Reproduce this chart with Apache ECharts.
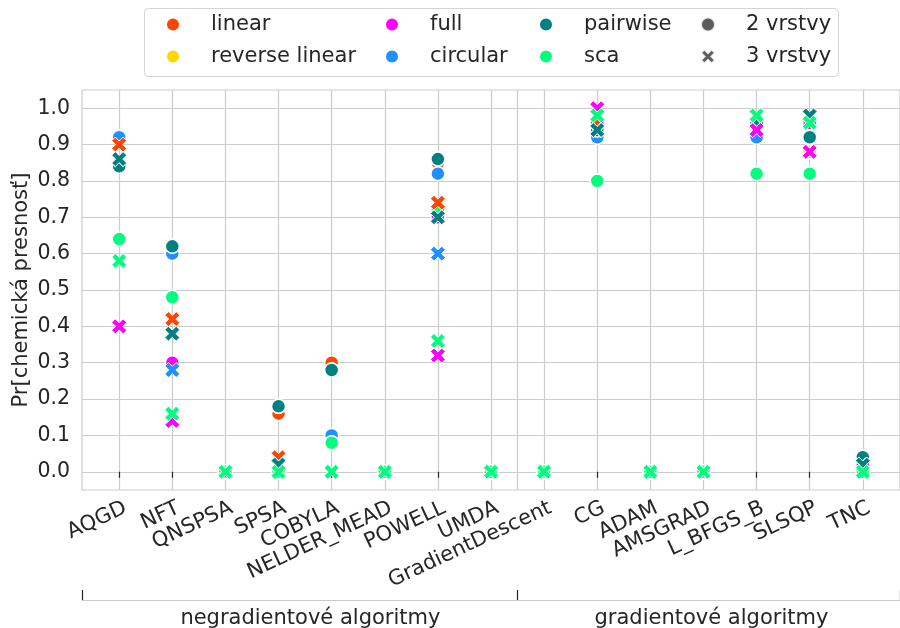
<!DOCTYPE html>
<html><head><meta charset="utf-8">
<script src="https://cdn.jsdelivr.net/npm/echarts@6/dist/echarts.min.js"></script>
<style>html,body{margin:0;padding:0;background:#fff}#c{width:900px;height:628px}</style>
</head><body><div id="c"></div>
<script>
const categories = ['AQGD','NFT','QNSPSA','SPSA','COBYLA','NELDER_MEAD','POWELL','UMDA','GradientDescent','CG','ADAM','AMSGRAD','L_BFGS_B','SLSQP','TNC'];
const groupLabels = ['negradientové algoritmy','gradientové algoritmy'];
const groupBounds = [-0.7, 7.5, 14.7];
const groupCenters = [3.6, 11.15];
const yTicks = [0,0.1,0.2,0.3,0.4,0.5,0.6,0.7,0.8,0.9,1.0];
const methods = ['linear','reverse linear','full','circular','pairwise','sca'];
const methodColors = ['#FF4500','#FFD700','#FF00FF','#1E90FF','#008080','#00FF7F'];
const layers = ['2 vrstvy','3 vrstvy'];

// 2 vrstvy (circles)
const linear2  = [0.92,0.60,0,0.16,0.30,0,0.85,0,0,0.94,0,0,0.92,0.88,0.04];
const revlin2  = [0.92,0.60,0,0.18,0.28,0,0.86,0,0,0.94,0,0,0.92,0.88,0.04];
const full2    = [0.92,0.30,0,0,0.08,0,0.70,0,0,0.96,0,0,0.92,0.96,0.02];
const circ2    = [0.92,0.60,0,0,0.10,0,0.82,0,0,0.92,0,0,0.92,0.92,0.04];
const pair2    = [0.84,0.62,0,0.18,0.28,0,0.86,0,0,0.94,0,0,0.96,0.92,0.04];
const sca2     = [0.64,0.48,0,0,0.08,0,0.72,0,0,0.80,0,0,0.82,0.82,0];
// 3 vrstvy (X markers)
const linear3  = [0.90,0.42,0,0.04,0,0,0.74,0,0,0.96,0,0,0.94,0.88,0.02];
const revlin3  = [0.86,0.38,0,0.02,0,0,0.70,0,0,0.94,0,0,0.94,0.88,0.02];
const full3    = [0.40,0.14,0,0,0,0,0.32,0,0,1.00,0,0,0.94,0.88,0.02];
const circ3    = [0.86,0.28,0,0.02,0,0,0.60,0,0,0.94,0,0,0.98,0.96,0.02];
const pair3    = [0.86,0.38,0,0.02,0,0,0.70,0,0,0.94,0,0,0.98,0.98,0.02];
const sca3     = [0.58,0.16,0,0,0,0,0.36,0,0,0.98,0,0,0.98,0.96,0];

const vals2 = [linear2, revlin2, full2, circ2, pair2, sca2];
const vals3 = [linear3, revlin3, full3, circ3, pair3, sca3];

const FONT = 'DejaVu Sans';
const TXT = '#262626';
const XPATH = 'path://M0,2.4 L2.4,0 L5,2.6 L7.6,0 L10,2.4 L7.4,5 L10,7.6 L7.6,10 L5,7.4 L2.4,10 L0,7.6 L2.6,5 Z';
const catIdx = categories.map((c,i)=>i);

const series = [];
methods.forEach((m,i)=>series.push({
  type:'scatter', name:m, symbol:'circle', symbolSize:14,
  itemStyle:{color:methodColors[i], borderColor:'#fff', borderWidth:1.5, opacity:1},
  emphasis:{disabled:true}, silent:true,
  data: vals2[i].map((v,j)=>[j,v]),
  markLine: i===0 ? {silent:true, symbol:'none', label:{show:false},
    lineStyle:{color:'#cccccc', type:'solid', width:1.2},
    data:[{xAxis: groupBounds[1]}]} : undefined
}));
methods.forEach((m,i)=>series.push({
  type:'scatter', name:m, symbol:XPATH, symbolSize:15, symbolKeepAspect:true,
  itemStyle:{color:methodColors[i], borderColor:'#fff', borderWidth:1, opacity:1},
  emphasis:{disabled:true}, silent:true,
  data: vals3[i].map((v,j)=>[j,v])
}));
series.push({type:'scatter', name:layers[0], symbol:'circle', itemStyle:{color:'#333333', borderColor:'#fff', borderWidth:1.5}, data:[]});
series.push({type:'scatter', name:layers[1], symbol:XPATH, itemStyle:{color:'#333333', borderColor:'#fff', borderWidth:1}, data:[]});

const legendCols = [[methods[0],methods[1]],[methods[2],methods[3]],[methods[4],methods[5]],[layers[0],layers[1]]];
const legendLeft = [165, 384, 538, 700];

const chart = echarts.init(document.getElementById('c'), null, {renderer:'canvas'});
chart.setOption({
  animation:false,
  textStyle:{fontFamily:FONT, color:TXT},
  graphic:[{type:'rect', z:0, shape:{x:144.5, y:8.5, width:694, height:68, r:4},
    style:{fill:'#ffffff', stroke:'#d4d4d4', lineWidth:1}}],
  legend: legendCols.map((col,k)=>({
    orient:'vertical', left:legendLeft[k], top:14, itemWidth:66, itemHeight:14, itemGap:11,
    selectedMode:false, padding:0,
    data: col.map(n=>({name:n, icon: n===layers[1] ? XPATH : 'circle'})),
    textStyle:{fontSize:21, color:TXT, fontFamily:FONT}
  })),
  grid:{left:82, right:0, top:90, bottom:138, show:true, borderColor:'#cccccc', borderWidth:1.2,
    containLabel:false, outerBoundsMode:'none'},
  xAxis:[{
    type:'value', min:-0.7, max:14.7,
    axisLine:{show:false},
    axisTick:{show:true, customValues:catIdx, length:6, lineStyle:{color:TXT, width:1.2}},
    axisLabel:{customValues:catIdx, rotate:25, margin:20, padding:[0,-7,0,0], fontSize:21, color:TXT, fontFamily:FONT,
      formatter:v=>categories[Math.round(v)]},
    splitLine:{show:true, lineStyle:{color:'#cccccc', width:1.2}}
  },{
    type:'value', min:-0.7, max:14.7, position:'bottom', offset:110,
    axisLine:{show:true, lineStyle:{color:'#cccccc', width:1.2}},
    axisTick:{show:true, inside:true, customValues:groupBounds, length:10, lineStyle:{color:TXT, width:1.2}},
    axisLabel:{customValues:groupCenters, margin:8, fontSize:21, color:TXT, fontFamily:FONT,
      formatter:v=>groupLabels[v<groupBounds[1]?0:1]},
    splitLine:{show:false}
  }],
  yAxis:{
    type:'value', min:-0.05, max:1.05,
    name:'Pr[chemická presnosť]', nameLocation:'middle', nameGap:50, nameMoveOverlap:false,
    nameTextStyle:{fontSize:21, color:TXT, fontFamily:FONT},
    axisLine:{show:false},
    axisTick:{show:false, customValues:yTicks},
    axisLabel:{customValues:yTicks, margin:12, fontSize:20.5, color:TXT, fontFamily:FONT, formatter:v=>v.toFixed(1)},
    splitLine:{show:true, lineStyle:{color:'#cccccc', width:1.2}}
  },
  series: series
});
</script></body></html>
